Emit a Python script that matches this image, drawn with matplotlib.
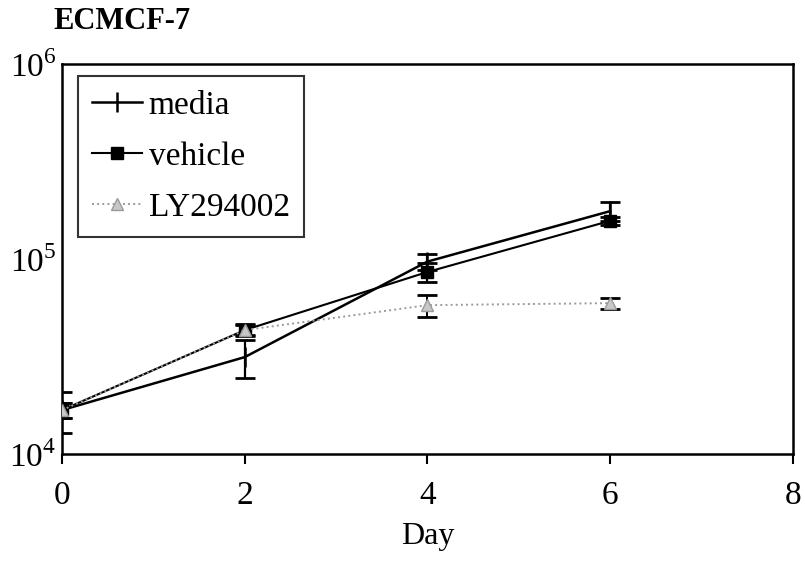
import numpy as np
import matplotlib
matplotlib.use('Agg')
import matplotlib.pyplot as plt

plt.rcParams['font.family'] = ['Liberation Serif', 'DejaVu Serif']
plt.rcParams['mathtext.fontset'] = 'custom'
plt.rcParams['mathtext.rm'] = 'Liberation Serif'

### DATA
days = [0, 2, 4, 6]
media = [16800, 31400, 97000, 176000]
media_err = [4000, 7000, 9000, 20000]
vehicle = [16800, 43200, 85800, 157000]
vehicle_err = [1500, 3000, 10000, 8000]
ly294002 = [16800, 43200, 58000, 59400]
ly294002_err = [1500, 2500, 7500, 4000]

xticks = [0, 2, 4, 6, 8]
yticks = [1e4, 1e5, 1e6]
ytick_labels = ['$10^4$', '$10^5$', '$10^6$']

fig = plt.figure(figsize=(8.05, 5.75), dpi=100)
ax = fig.add_axes([0.077, 0.2104, 0.908, 0.6783])

# error bars first (kept out of the legend)
ax.errorbar(days, media, yerr=media_err, fmt='none', ecolor='black',
            capsize=7, capthick=2, elinewidth=1.6, zorder=3)
ax.errorbar(days, vehicle, yerr=vehicle_err, fmt='none', ecolor='black',
            capsize=7, capthick=2, elinewidth=1.6, zorder=3)
ax.errorbar(days, ly294002, yerr=ly294002_err, fmt='none', ecolor='black',
            capsize=7, capthick=2, elinewidth=1.4, zorder=3)

ax.plot(days, media, color='black', lw=1.8, marker='|', ms=14, mew=1.8,
        label='media', zorder=4)
ax.plot(days, vehicle, color='black', lw=1.5, marker='s', ms=8,
        label='vehicle', zorder=5)
ax.plot(days, ly294002, color='#9a9a9a', ls=':', lw=1.4, marker='^', ms=9,
        mfc='#c8c8c8', mec='#9a9a9a', label='LY294002', zorder=6)

ax.set_yscale('log')
ax.set_ylim(1e4, 1e6)
ax.set_xlim(0, 8)
ax.set_xticks(xticks)
ax.set_yticks(yticks)
ax.set_yticklabels(ytick_labels)
ax.minorticks_off()
ax.tick_params(axis='x', direction='out', length=7, width=1.5, labelsize=24, pad=12)
ax.tick_params(axis='y', length=0, labelsize=24, pad=4)
for s in ax.spines.values():
    s.set_linewidth(1.8)

ax.set_xlabel('Day', fontsize=23, labelpad=8)

leg = ax.legend(loc='upper left', bbox_to_anchor=(0.022, 0.969), fontsize=24,
                frameon=True, fancybox=False, edgecolor='black', handlelength=1.5,
                handletextpad=0.2, labelspacing=0.62, borderpad=0.42,
                borderaxespad=0)
leg.get_frame().set_linewidth(1.5)

fig.text(0.066, 0.963, 'ECMCF-7', fontsize=22, fontweight='bold', ha='left', va='center')

fig.savefig('out.png', dpi=100)
